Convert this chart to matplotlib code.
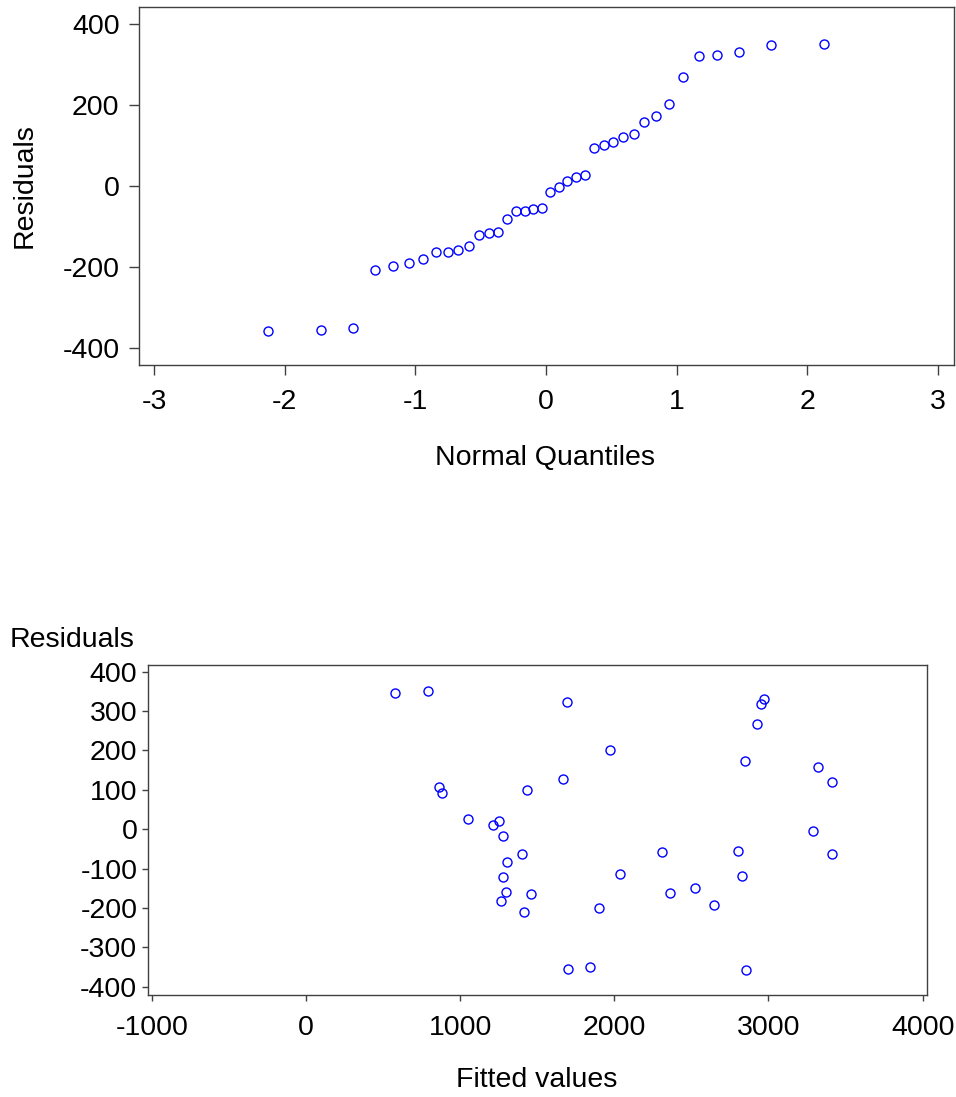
import matplotlib.pyplot as plt
import numpy as np

plt.rcParams['font.family'] = ['Liberation Sans', 'DejaVu Sans']
plt.rcParams['axes.unicode_minus'] = False

# fitted values and residuals
fitted = [579, 794, 1696, 1973, 1668, 862, 882, 1434, 1051, 1252,
          1216, 1276, 1404, 1306, 2308, 1278, 2038, 1295, 1462, 1268,
          1414, 1901, 1700, 1845, 2969, 2951, 2923, 2845, 3319, 3412,
          3287, 2802, 3412, 2828, 2362, 2523, 2646, 2856]
residuals = [346, 350, 322, 202, 127, 108, 92, 100, 27, 20,
             11, -16, -63, -82, -58, -122, -115, -160, -164, -182,
             -209, -199, -356, -351, 331, 319, 267, 172, 158, 119,
             -4, -56, -63, -118, -163, -150, -192, -358]

# normal quantiles (upper panel, x positions)
quantiles = [-2.13, -1.72, -1.48, -1.31, -1.17, -1.05, -0.94, -0.84, -0.75, -0.67,
             -0.59, -0.51, -0.44, -0.37, -0.30, -0.23, -0.16, -0.10, -0.03, 0.03,
             0.10, 0.16, 0.23, 0.30, 0.37, 0.44, 0.51, 0.59, 0.67, 0.75,
             0.84, 0.94, 1.05, 1.17, 1.31, 1.48, 1.72, 2.13]

W, H = 956, 1097
fig = plt.figure(figsize=(W / 100, H / 100), dpi=100)

edge = '#404040'
fs = 20.5
mk = dict(marker='o', ms=6.5, mfc='none', mec='blue', mew=1.0, ls='none')

# --- normal probability plot ---
ax1 = fig.add_axes([139 / W, 1 - 365 / H, 815 / W, 358 / H])
ax1.plot(quantiles, np.sort(residuals), **mk)
ax1.set_xlim(-3.115, 3.122)
ax1.set_ylim(-443, 441)
ax1.set_xticks([-3, -2, -1, 0, 1, 2, 3])
ax1.set_yticks([-400, -200, 0, 200, 400])
ax1.tick_params(labelsize=fs, length=7, width=1, color=edge, pad=7)
ax1.tick_params(axis='x', pad=10)
for s in ax1.spines.values():
    s.set_color(edge)
    s.set_linewidth(1)
fig.text(25 / W, 1 - 186 / H, 'Residuals', rotation=90, ha='center', va='center', fontsize=fs)
fig.text(545 / W, 1 - 465 / H, 'Normal Quantiles', ha='center', va='baseline', fontsize=fs)

# --- residuals vs fitted ---
ax2 = fig.add_axes([147.7 / W, 1 - 995 / H, 779.3 / W, 330 / H])
ax2.plot(fitted, residuals, **mk)
ax2.set_xlim(-1026, 4028)
ax2.set_ylim(-421, 417)
ax2.set_xticks([-1000, 0, 1000, 2000, 3000, 4000])
ax2.set_yticks(np.arange(-400, 401, 100))
ax2.tick_params(labelsize=fs, length=4.5, width=1, color=edge)
ax2.tick_params(axis='y', pad=3)
ax2.tick_params(axis='x', pad=10)
for s in ax2.spines.values():
    s.set_color(edge)
    s.set_linewidth(1)
fig.text(10 / W, 1 - 647 / H, 'Residuals', ha='left', va='baseline', fontsize=fs)
fig.text(537 / W, 1 - 1087 / H, 'Fitted values', ha='center', va='baseline', fontsize=fs)

fig.savefig('out.png', dpi=100)
